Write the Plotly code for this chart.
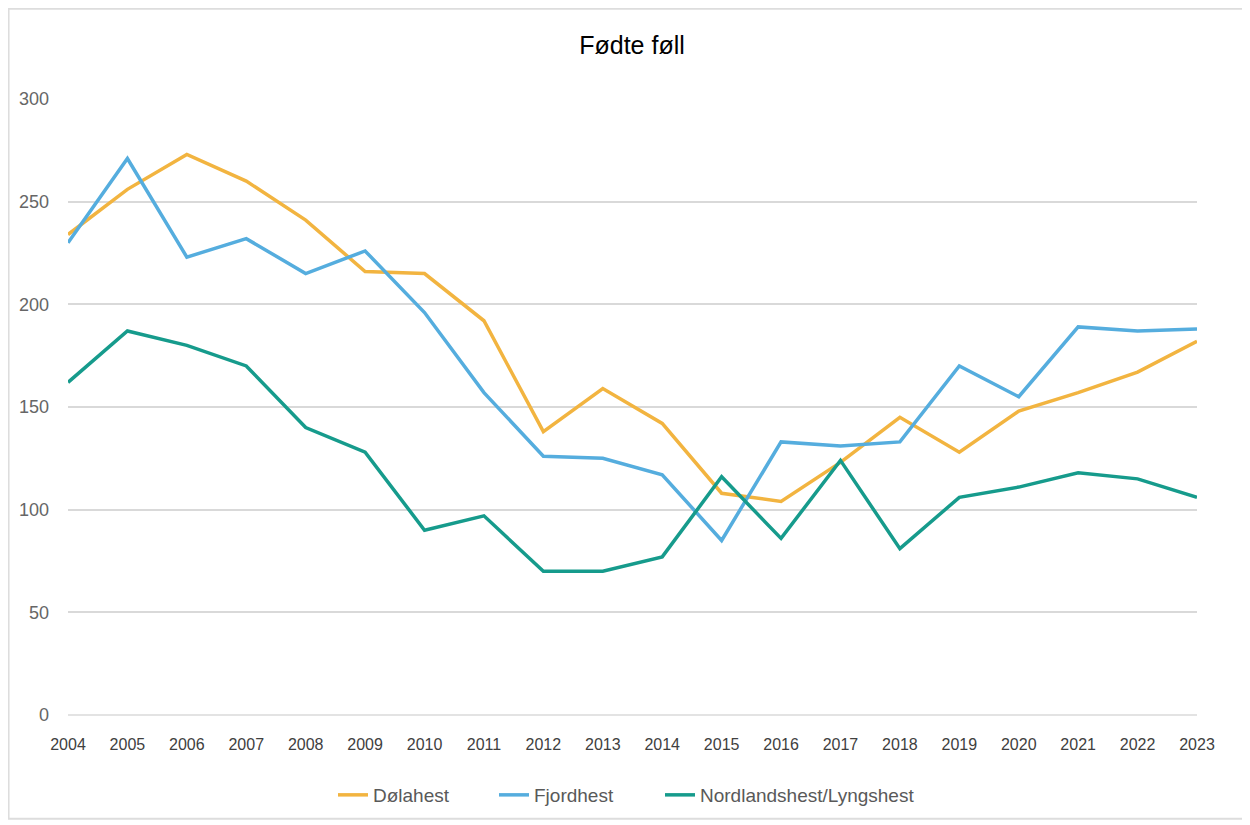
import plotly.graph_objects as go

years = list(range(2004, 2024))
dolahest = [234, 256, 273, 260, 241, 216, 215, 192, 138, 159, 142, 108, 104, 123, 145, 128, 148, 157, 167, 182]
fjordhest = [230, 271, 223, 232, 215, 226, 196, 157, 126, 125, 117, 85, 133, 131, 133, 170, 155, 189, 187, 188]
nordland = [162, 187, 180, 170, 140, 128, 90, 97, 70, 70, 77, 116, 86, 124, 81, 106, 111, 118, 115, 106]
series_names = ["Dølahest", "Fjordhest", "Nordlandshest/Lyngshest"]
colors = ["#F2B440", "#55ADDE", "#169B8C"]
y_ticks = [0, 50, 100, 150, 200, 250, 300]

FONT = "Liberation Sans Narrow, Liberation Sans, Arial, sans-serif"

# figure is placed at an 8px page offset, so sizes are reduced accordingly
W, H = 1242, 817
L, T = 60, 91
PW, PH = 1129, 617

legend_ids = ["legend", "legend2", "legend3"]
legend_left_px = [338, 499, 665]  # screen x where each legend entry's line starts

fig = go.Figure()
for name, vals, c, lg in zip(series_names, [dolahest, fjordhest, nordland], colors, legend_ids):
    fig.add_trace(go.Scatter(x=years, y=vals, mode="lines", name=name, legend=lg,
                             showlegend=True, line=dict(color=c, width=3.5)))

x0b = -L / PW + 0.0005
y0b = -104 / PH
y1b = 1 + T / PH - 0.001

legend_layout = {}
for lg, px in zip(legend_ids, legend_left_px):
    legend_layout[lg] = dict(orientation="h", x=(px - 73) / PW, xanchor="left",
                             y=-79 / PH, yanchor="middle", bgcolor="rgba(0,0,0,0)",
                             font=dict(family=FONT, size=19, color="#595959"))

fig.update_layout(
    width=W, height=H, showlegend=True,
    paper_bgcolor="white", plot_bgcolor="white",
    margin=dict(l=L, r=W - L - PW, t=T, b=H - T - PH),
    title=dict(text="Fødte føll", x=(624) / W, xanchor="center",
               y=1 - 37 / H, yanchor="middle",
               font=dict(family=FONT, size=25, color="black")),
    font=dict(family=FONT, color="#595959"),
    shapes=[dict(type="path", xref="paper", yref="paper",
                 path=f"M 1.2,{y0b} L {x0b},{y0b} L {x0b},{y1b} L 1.2,{y1b}",
                 line=dict(color="#dddddd", width=2), layer="below")],
    **legend_layout,
)
fig.update_xaxes(range=[2004, 2023], tickmode="array", tickvals=years,
                 ticktext=[str(y) for y in years], showgrid=False, zeroline=False,
                 showline=False, ticks="", tickfont=dict(size=16, color="#404040"),
                 ticklabelstandoff=18)
fig.update_yaxes(range=[0, 300], tickvals=y_ticks,
                 showgrid=True, gridcolor="#d9d9d9", gridwidth=1.5,
                 zeroline=True, zerolinecolor="#e3e3e3", zerolinewidth=1.5,
                 showline=False, ticks="", tickfont=dict(size=18, color="#666666"),
                 ticklabelstandoff=18)

fig.write_html("out.html")
